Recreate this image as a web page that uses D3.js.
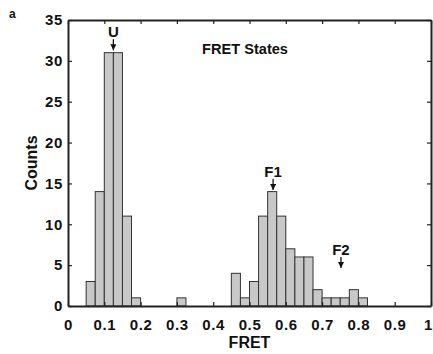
<!DOCTYPE html>
<html><head><meta charset="utf-8">
<script src="https://cdn.jsdelivr.net/npm/d3@7"></script>
<style>body{margin:0;background:#fff}svg{display:block}text{font-family:"Liberation Sans",Arial,sans-serif;font-weight:bold;fill:#111}</style>
</head><body>
<script>
// Histogram bins (lower edge, FRET) and counts; bin width 0.025
const binStarts = [0.05,0.075,0.1,0.125,0.15,0.175,0.3,0.45,0.475,0.5,0.525,0.55,0.575,0.6,0.625,0.65,0.675,0.7,0.725,0.75,0.775,0.8];
const counts    = [3,14,31,31,11,1,1,4,1,3,11,14,11,7,6,6,2,1,1,1,2,1];
const binWidth = 0.025;
const xTicks = [0,0.1,0.2,0.3,0.4,0.5,0.6,0.7,0.8,0.9,1];
const xTickLabels = ["0","0.1","0.2","0.3","0.4","0.5","0.6","0.7","0.8","0.9","1"];
const yTicks = [0,5,10,15,20,25,30,35];
const stateLabels = ["U","F1","F2"];
const stateX = [0.125,0.565,0.752];
const stateTip = [31.3,14.2,4.65];

(function(){
const W=433,H=354;
const m={l:68,r:2,t:20,b:48};
const svg=d3.select("body").append("svg").attr("width",W).attr("height",H);
const x=d3.scaleLinear().domain([0,1]).range([m.l,W-m.r]);
const y=d3.scaleLinear().domain([0,35]).range([H-m.b,m.t]);

// bars
svg.append("g").selectAll("rect").data(binStarts).join("rect")
  .attr("x",d=>x(d)).attr("width",d=>x(d+binWidth)-x(d))
  .attr("y",(d,i)=>y(counts[i])).attr("height",(d,i)=>y(0)-y(counts[i]))
  .attr("fill","#c8c8c8").attr("stroke","#333").attr("stroke-width",1);

// axes
const ax=svg.append("g");
const gb=ax.append("g").attr("transform",`translate(0,${y(0)})`)
  .call(d3.axisBottom(x).tickValues(xTicks).tickSizeInner(-4).tickSizeOuter(0).tickPadding(13).tickFormat((d,i)=>xTickLabels[i]));
ax.append("g").attr("transform",`translate(0,${y(35)})`)
  .call(d3.axisTop(x).tickValues(xTicks).tickSizeInner(-4).tickSizeOuter(0).tickFormat(""));
ax.append("g").attr("transform",`translate(${x(0)},0)`)
  .call(d3.axisLeft(y).tickValues(yTicks).tickSizeInner(-4).tickSizeOuter(0).tickPadding(5));
ax.append("g").attr("transform",`translate(${x(1)},0)`)
  .call(d3.axisRight(y).tickValues(yTicks).tickSizeInner(-4).tickSizeOuter(0).tickFormat(""));
ax.selectAll(".domain").attr("stroke","#222").attr("stroke-width",2);
ax.selectAll(".tick line").attr("stroke","#222").attr("stroke-width",1.2);
ax.selectAll(".tick text").style("font-size","15px").style("letter-spacing","0.6px").style("font-family","Liberation Sans, Arial, sans-serif").style("font-weight","bold").attr("fill","#111");
gb.selectAll(".tick text").filter(d=>d===1).attr("dx",-3);

// axis labels
svg.append("text").attr("x",(x(0)+x(1))/2).attr("y",348).attr("text-anchor","middle").style("font-size","16px").text("FRET");
svg.append("text").attr("transform",`translate(37,${(y(0)+y(35))/2}) rotate(-90)`).attr("text-anchor","middle").style("font-size","16px").text("Counts");
svg.append("text").attr("x",9).attr("y",18).style("font-size","12px").text("a");
svg.append("text").attr("x",245).attr("y",54).attr("text-anchor","middle").style("font-size","14.6px").text("FRET States");

// state annotations
const defs=svg.append("defs");
defs.append("marker").attr("id","ah").attr("viewBox","0 0 10 10").attr("refX",10).attr("refY",5)
  .attr("markerWidth",6).attr("markerHeight",6).attr("markerUnits","userSpaceOnUse").attr("orient","auto")
  .append("path").attr("d","M0,0L10,5L0,10Z").attr("fill","#111");
stateLabels.forEach((s,i)=>{
  const px=x(stateX[i]), tip=y(stateTip[i]);
  svg.append("line").attr("x1",px).attr("x2",px).attr("y1",tip-11).attr("y2",tip)
    .attr("stroke","#111").attr("stroke-width",1.3).attr("marker-end","url(#ah)");
  svg.append("text").attr("x",px).attr("y",tip-13).attr("text-anchor","middle").style("font-size","15px").text(s);
});
})();
</script>
</body></html>
